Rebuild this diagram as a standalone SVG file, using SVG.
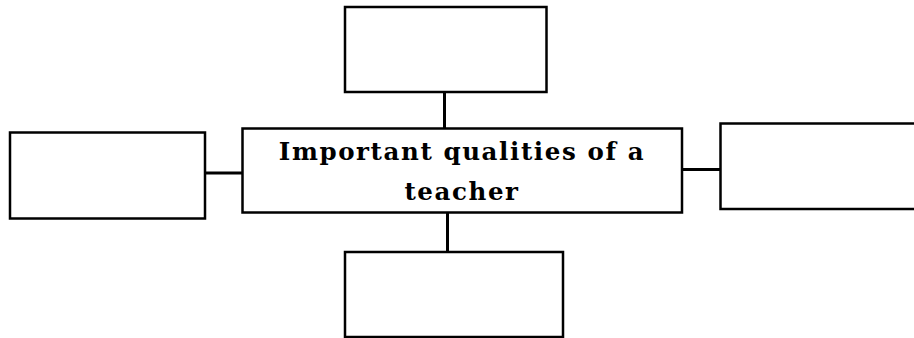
<svg xmlns="http://www.w3.org/2000/svg" width="914" height="338" viewBox="0 0 914 338">
<style>
.box{fill:#fff;stroke:#000;stroke-width:2.5}
.ln{stroke:#000;stroke-width:3;fill:none}
.t{font-family:"DejaVu Serif","Liberation Serif",serif;font-weight:bold;font-size:24.5px;letter-spacing:1.6px;fill:#000;text-anchor:middle}
</style>
<rect width="914" height="338" fill="#fff"/>
<g id="connectors">
<line class="ln" x1="444.5" y1="92" x2="444.5" y2="128"/>
<line class="ln" x1="447.5" y1="213" x2="447.5" y2="252"/>
<line class="ln" x1="205" y1="173" x2="242" y2="173"/>
<line class="ln" x1="682" y1="169.5" x2="720" y2="169.5"/>
</g>
<g id="center">
<rect class="box" x="242.5" y="128.5" width="439.5" height="84"/>
<text class="t" x="462" y="160">Important qualities of a</text>
<text class="t" x="462" y="200">teacher</text>
</g>
<g id="top"><rect class="box" x="345" y="7" width="201.5" height="85"/></g>
<g id="left"><rect class="box" x="10" y="132.5" width="195" height="86"/></g>
<g id="right"><rect class="box" x="720.5" y="123.5" width="200" height="85.5"/></g>
<g id="bottom"><rect class="box" x="345" y="252" width="218" height="85"/></g>
</svg>
